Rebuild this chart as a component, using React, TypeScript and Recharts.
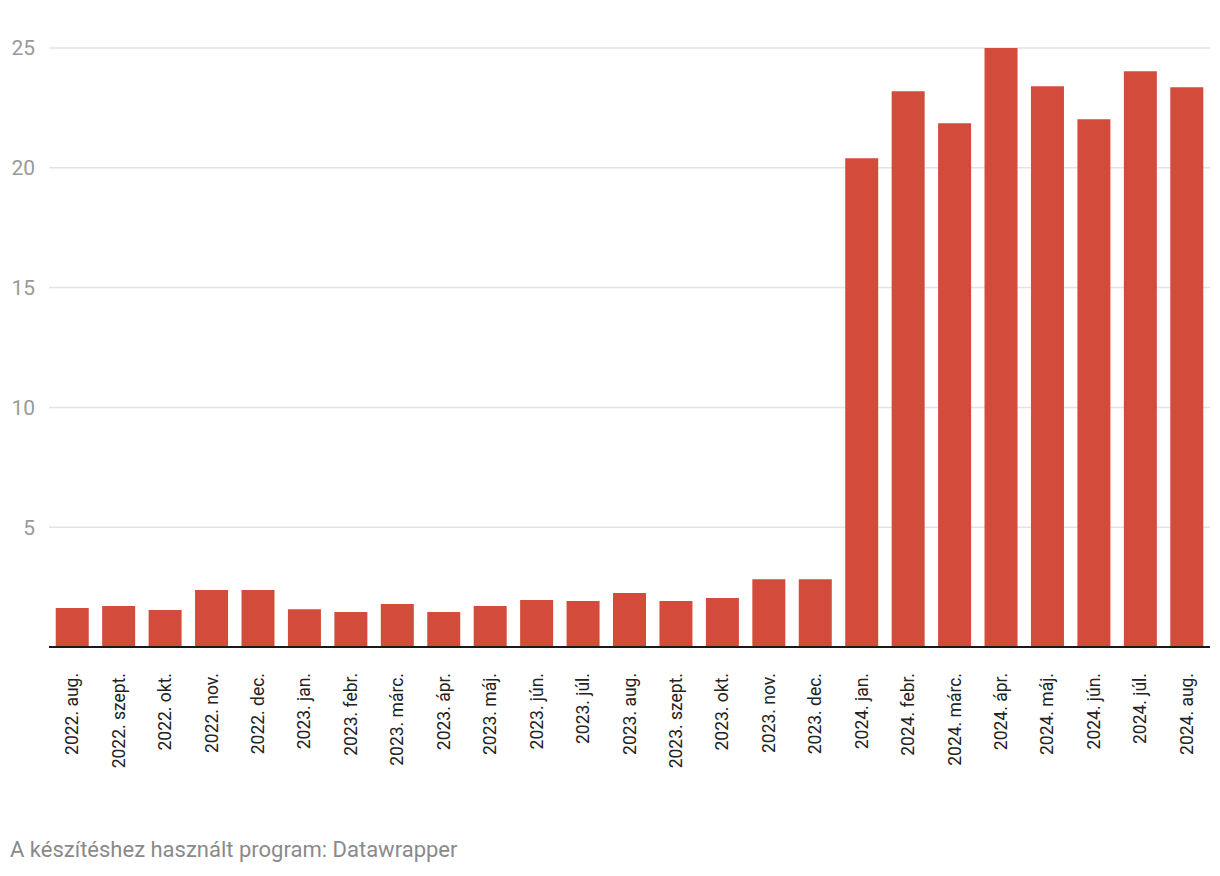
import { Bar, BarChart, CartesianGrid, XAxis, YAxis } from "recharts";

const months = [
  "2022. aug.", "2022. szept.", "2022. okt.", "2022. nov.", "2022. dec.",
  "2023. jan.", "2023. febr.", "2023. márc.", "2023. ápr.", "2023. máj.",
  "2023. jún.", "2023. júl.", "2023. aug.", "2023. szept.", "2023. okt.",
  "2023. nov.", "2023. dec.", "2024. jan.", "2024. febr.", "2024. márc.",
  "2024. ápr.", "2024. máj.", "2024. jún.", "2024. júl.", "2024. aug.",
];
const values = [
  1.63, 1.71, 1.54, 2.38, 2.38,
  1.58, 1.46, 1.79, 1.46, 1.71,
  1.96, 1.92, 2.25, 1.92, 2.04,
  2.83, 2.83, 20.4, 23.2, 21.86,
  25.0, 23.4, 22.03, 24.03, 23.36,
];
const yTicks = [5, 10, 15, 20, 25];

const rows = months.map((m, i) => ({ month: m, value: values[i] }));

const FONT = "Roboto, 'Noto Sans', sans-serif";

// rotated month label, centred on the bar, reading bottom-up
function MonthTick(props: any) {
  const { x, y, payload } = props;
  const ty = y + 18;
  return (
    <text
      x={x}
      y={ty}
      transform={`rotate(-90, ${x}, ${ty})`}
      textAnchor="end"
      dominantBaseline="central"
      fontFamily={FONT}
      fontSize={17.5}
      fill="#222"
    >
      {payload.value}
    </text>
  );
}

export default function App() {
  return (
    <div
      style={{
        position: "absolute",
        left: 0,
        top: 0,
        width: 1220,
        height: 876,
        background: "#fff",
        fontFamily: FONT,
      }}
    >
      <BarChart
        width={1220}
        height={800}
        data={rows}
        margin={{ top: 48, right: 10, bottom: 0, left: 0 }}
        barCategoryGap="14.5%"
      >
        <CartesianGrid vertical={false} stroke="#e3e3e3" strokeWidth={1.5} />
        <YAxis
          type="number"
          domain={[0, 25]}
          ticks={yTicks}
          width={49}
          axisLine={false}
          tickLine={false}
          tickSize={0}
          tickMargin={14}
          tick={{ fill: "#999", fontSize: 21, fontFamily: FONT }}
        />
        <XAxis
          dataKey="month"
          interval={0}
          height={153}
          tickLine={false}
          axisLine={{ stroke: "#1a1a1a", strokeWidth: 2 }}
          tick={<MonthTick />}
        />
        <Bar dataKey="value" fill="#d34b3a" isAnimationActive={false} />
      </BarChart>
      <div
        style={{
          position: "absolute",
          left: 10,
          top: 837,
          fontSize: 22,
          color: "#8a8a8a",
          fontFamily: FONT,
        }}
      >
        A készítéshez használt program: Datawrapper
      </div>
    </div>
  );
}
